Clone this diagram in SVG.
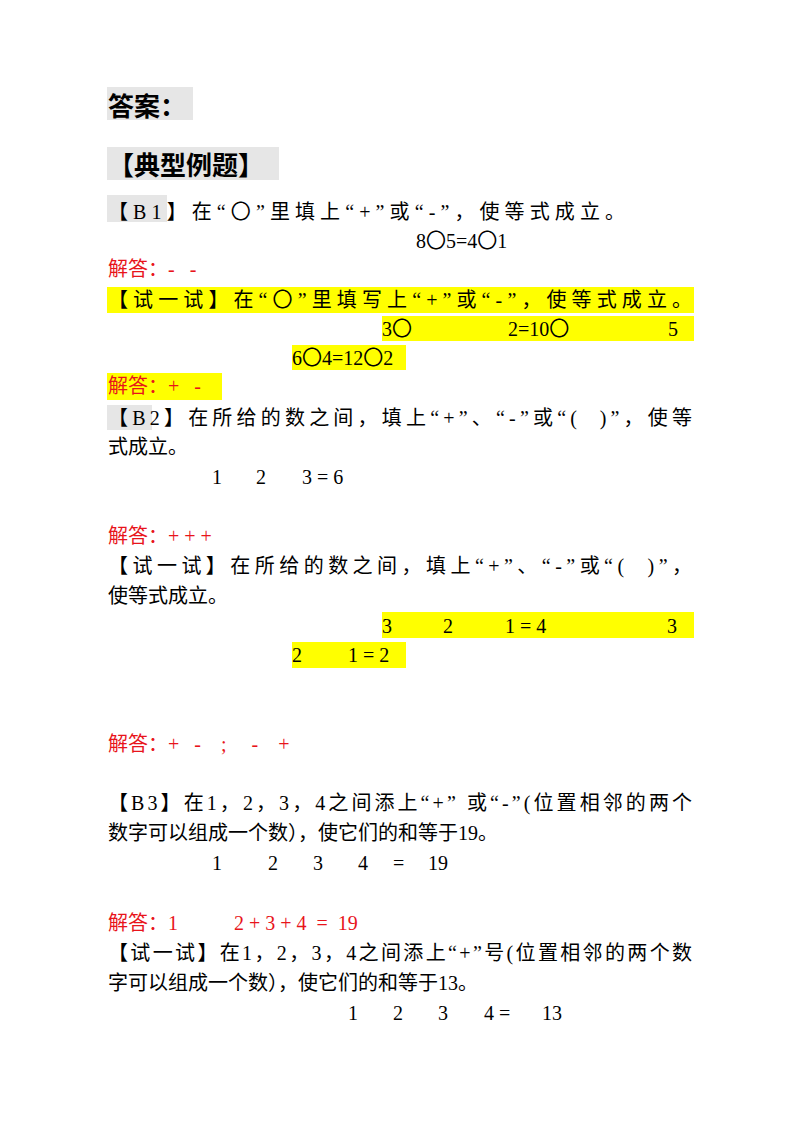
<svg xmlns="http://www.w3.org/2000/svg" width="800" height="1135" viewBox="0 0 800 1135">
<style>
text{font-family:"Liberation Serif","Noto Sans CJK SC",serif;font-size:20px;fill:#000;white-space:pre}
.r{fill:#e8141b}
.h{font-size:26px;font-weight:bold}
.g{fill:#e6e6e6}
.y{fill:#ffff00}
</style>
<rect width="800" height="1135" fill="#fff"/>
<rect class="g" x="107" y="87" width="86" height="33"/>
<text class="h" x="108" y="116">答案：</text>
<rect class="g" x="107" y="147" width="172" height="33"/>
<text class="h" x="108" y="175">【典型例题】</text>
<rect class="g" x="107" y="195" width="60" height="27"/>
<text x="108" y="219" textLength="517">【B1】在“〇”里填上“+”或“-”，使等式成立。</text>
<text x="416" y="248">8〇5=4〇1</text>
<text class="r" x="108" y="276">解答：-   -</text>
<rect class="y" x="107" y="287" width="587" height="26"/>
<text x="108" y="307" textLength="584">【试一试】在“〇”里填写上“+”或“-”，使等式成立。</text>
<rect class="y" x="382" y="316" width="312" height="25"/>
<text x="382" y="336">3〇</text><text x="508" y="336">2=10〇</text><text x="668" y="336">5</text>
<rect class="y" x="292" y="345" width="114" height="25"/>
<text x="292" y="365">6〇4=12〇2</text>
<rect class="y" x="107" y="373" width="115" height="27"/>
<text class="r" x="108" y="393">解答：+   -</text>
<rect class="g" x="107" y="405" width="45" height="25"/>
<text x="108" y="425" textLength="584">【B2】在所给的数之间，填上“+”、“-”或“(  )”，使等</text>
<text x="108" y="454">式成立。</text>
<text x="212" y="484">1</text><text x="256" y="484">2</text><text x="302" y="484">3 = 6</text>
<text class="r" x="108" y="543">解答：+ + +</text>
<text x="108" y="573" textLength="584">【试一试】在所给的数之间，填上“+”、“-”或“(  )”，</text>
<text x="108" y="603">使等式成立。</text>
<rect class="y" x="382" y="612" width="312" height="26"/>
<text x="382" y="633">3</text><text x="443" y="633">2</text><text x="505" y="633">1 = 4</text><text x="667" y="633">3</text>
<rect class="y" x="292" y="642" width="114" height="26"/>
<text x="292" y="662">2</text><text x="348" y="662">1 = 2</text>
<text class="r" x="108" y="751">解答：+   -    ;     -    +</text>
<text x="108" y="810" textLength="584">【B3】在1，2，3，4之间添上“+” 或“-”(位置相邻的两个</text>
<text x="108" y="840">数字可以组成一个数），使它们的和等于19。</text>
<text x="212" y="870">1</text><text x="268" y="870">2</text><text x="313" y="870">3</text><text x="358" y="870">4</text><text x="393" y="870">=</text><text x="428" y="870">19</text>
<text class="r" x="108" y="930">解答：1</text><text class="r" x="234" y="930">2 + 3 + 4  =  19</text>
<text x="108" y="960" textLength="584">【试一试】在1，2，3，4之间添上“+”号(位置相邻的两个数</text>
<text x="108" y="990">字可以组成一个数），使它们的和等于13。</text>
<text x="348" y="1020">1</text><text x="393" y="1020">2</text><text x="438" y="1020">3</text><text x="484" y="1020">4 =</text><text x="542" y="1020">13</text>
</svg>
